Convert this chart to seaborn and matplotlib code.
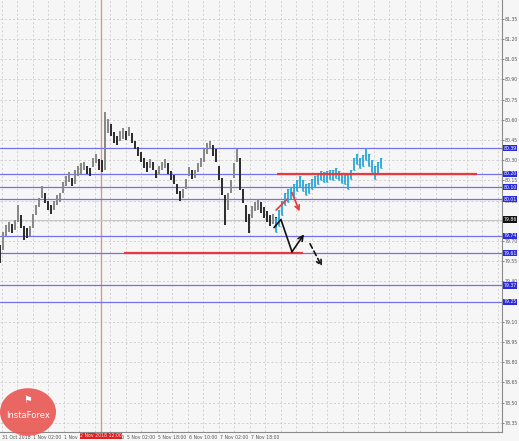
import numpy as np
import matplotlib
matplotlib.use('Agg')
import matplotlib.pyplot as plt
import seaborn as sns
from matplotlib.patches import Circle

sns.set_style('white')
plt.rcParams['font.family'] = ['DejaVu Sans']

# ---- data (prices) ----
BAR_HOURS = 1.55

hist_high = [79.67, 79.77, 79.82, 79.84, 79.83, 79.86, 79.97, 79.89, 79.81, 79.80,
             79.81, 79.90, 79.97, 80.02, 80.11, 80.06, 80.00, 79.97, 80.00, 80.04,
             80.06, 80.14, 80.18, 80.21, 80.17, 80.23, 80.26, 80.28, 80.29, 80.26,
             80.24, 80.32, 80.35, 80.31, 80.30, 80.66, 80.61, 80.57, 80.51, 80.48,
             80.52, 80.54, 80.52, 80.55, 80.50, 80.44, 80.40, 80.36, 80.32, 80.29,
             80.31, 80.29, 80.23, 80.26, 80.29, 80.31, 80.28, 80.22, 80.19, 80.12,
             80.07, 80.09, 80.16, 80.25, 80.23, 80.23, 80.28, 80.32, 80.38, 80.43,
             80.44, 80.41, 80.38, 80.26, 80.17, 80.04, 80.06, 80.15, 80.28, 80.38,
             80.32, 80.09, 79.97, 79.90, 79.96, 79.99, 80.01, 79.99, 79.95, 79.92,
             79.89, 79.90, 79.88]
hist_low = [79.54, 79.63, 79.74, 79.77, 79.76, 79.78, 79.84, 79.80, 79.71, 79.72,
            79.74, 79.80, 79.89, 79.95, 80.02, 79.98, 79.93, 79.90, 79.93, 79.97,
            79.99, 80.06, 80.11, 80.14, 80.11, 80.12, 80.18, 80.20, 80.23, 80.20,
            80.18, 80.25, 80.28, 80.23, 80.21, 80.23, 80.50, 80.48, 80.43, 80.41,
            80.44, 80.46, 80.45, 80.48, 80.43, 80.38, 80.33, 80.29, 80.24, 80.21,
            80.24, 80.23, 80.17, 80.19, 80.23, 80.24, 80.20, 80.15, 80.12, 80.05,
            80.00, 80.02, 80.09, 80.18, 80.16, 80.17, 80.21, 80.25, 80.29, 80.35,
            80.38, 80.33, 80.29, 80.15, 80.04, 79.82, 79.93, 80.06, 80.17, 80.29,
            80.08, 79.98, 79.84, 79.76, 79.87, 79.92, 79.93, 79.91, 79.87, 79.84,
            79.81, 79.83, 79.80]

fc_high = [79.87, 79.93, 80.00, 80.06, 80.09, 80.10, 80.12, 80.15, 80.18, 80.15,
           80.12, 80.13, 80.16, 80.18, 80.20, 80.22, 80.21, 80.22, 80.23, 80.23,
           80.24, 80.22, 80.20, 80.19, 80.20, 80.23, 80.32, 80.35, 80.32, 80.34,
           80.39, 80.35, 80.30, 80.26, 80.29, 80.32]
fc_low = [79.77, 79.81, 79.89, 79.97, 79.99, 80.01, 80.03, 80.07, 80.10, 80.07,
          80.04, 80.06, 80.09, 80.10, 80.12, 80.15, 80.14, 80.14, 80.16, 80.15,
          80.17, 80.15, 80.13, 80.12, 80.09, 80.16, 80.23, 80.27, 80.24, 80.26,
          80.30, 80.26, 80.21, 80.16, 80.20, 80.24]
FC_START = 92  # forecast begins at this bar index

levels = [80.39, 80.20, 80.10, 80.01, 79.74, 79.61, 79.37, 79.25]
current_price = 79.86

# red support / resistance segments: (price, from hour, to hour)
red_levels = [(80.20, 143.0, 246.0), (79.61, 64.0, 156.4)]
crosshair_hour = 52.1
crosshair_label = '2 Nov 2018 12:00'

tick_hours = [1, 17, 33, 49.5, 65.5, 81.5, 97.5, 113.5, 129.5]
tick_labels = ['31 Oct 2018', '1 Nov 02:00', '1 Nov 18:00', '2 Nov 10:00',
               '5 Nov 02:00', '5 Nov 18:00', '6 Nov 10:00', '7 Nov 02:00', '7 Nov 18:00']

# hand-drawn scenario arrows (hour, price)
black_path_h = [141.4, 145.0, 150.7, 156.9]
black_path_p = [79.80, 79.86, 79.62, 79.75]
black_dash_h = [160.0, 166.2]
black_dash_p = [79.68, 79.51]
red_up_h = [142.5, 148.1]
red_up_p = [79.93, 80.01]
red_down_h = [150.7, 154.6]
red_down_p = [80.06, 79.92]

FS = 3.3

# ---- figure ----
fig = plt.figure(figsize=(5.19, 4.41), dpi=100, facecolor='#f6f6f6')
ax = fig.add_axes([0.0, 9 / 441, 502 / 519, 432 / 441])
ax.set_facecolor('#f6f6f6')

x_min, x_max = 0, 259.1
y_min, y_max = 78.282, 81.490
ax.set_xlim(x_min, x_max)
ax.set_ylim(y_min, y_max)

yticks = np.round(np.arange(78.35, 81.40, 0.15), 2)
ax.set_yticks(yticks)
ax.set_yticklabels([f'{v:.2f}' for v in yticks])
ax.yaxis.tick_right()
ax.set_xticks(tick_hours)
ax.set_xticklabels(tick_labels, ha='left')

# dashed grid
for h in np.arange(1, x_max, 8):
    ax.axvline(h, color='#c4c4c4', lw=0.5, ls=(0, (3, 3)), zorder=0)
for v in yticks:
    ax.axhline(v, color='#c4c4c4', lw=0.5, ls=(0, (3, 3)), zorder=0)

# crosshair
ax.axvline(crosshair_hour, color='#ee8a80', lw=0.9, zorder=1)

# level lines
for lv in levels:
    ax.axhline(lv, color='#7272e6', lw=0.9, zorder=2)
ax.axhline(current_price, color='#c8c8c8', lw=0.8, zorder=2)

# history bars
hx = np.arange(len(hist_high)) * BAR_HOURS
ax.vlines(hx, hist_low, hist_high, color='#2a2a2a', lw=1.4, zorder=3)
mid = (np.array(hist_high) + np.array(hist_low)) / 2
up = np.r_[False, np.diff(mid) > 0]
ax.vlines(hx[up], np.array(hist_low)[up], np.array(hist_high)[up], color='#8c8c8c', lw=1.4, zorder=3)

# forecast bars
fx = (FC_START + np.arange(len(fc_high))) * BAR_HOURS
ax.vlines(fx, fc_low, fc_high, color='#2aa6d6', lw=1.3, zorder=4)
ax.hlines(fc_high, fx - 0.5, fx + 0.5, color='#2aa6d6', lw=0.6, zorder=4)
ax.hlines(fc_low, fx - 0.5, fx + 0.5, color='#2aa6d6', lw=0.6, zorder=4)

# red segments
for price, h0, h1 in red_levels:
    ax.hlines(price, h0, h1, color='#e83a3a', lw=1.6, zorder=5)

# arrows
sns.lineplot(x=black_path_h[:-1], y=black_path_p[:-1], sort=False, color='#111111', lw=1.2, ax=ax, zorder=6)
ax.annotate('', xy=(black_path_h[-1], black_path_p[-1]), xytext=(black_path_h[-2], black_path_p[-2]),
            arrowprops=dict(arrowstyle='->', color='#111111', lw=1.2, shrinkA=0, shrinkB=0, mutation_scale=9), zorder=6)
ax.annotate('', xy=(black_dash_h[1], black_dash_p[1]), xytext=(black_dash_h[0], black_dash_p[0]),
            arrowprops=dict(arrowstyle='->', color='#111111', lw=1.2, ls=(0, (3, 2)), shrinkA=0, shrinkB=0,
                            mutation_scale=9), zorder=6)
sns.lineplot(x=red_up_h, y=red_up_p, sort=False, color='#e83a3a', lw=1.2, ax=ax, zorder=6)
ax.annotate('', xy=(red_down_h[1], red_down_p[1]), xytext=(red_down_h[0], red_down_p[0]),
            arrowprops=dict(arrowstyle='->', color='#e83a3a', lw=1.2, shrinkA=0, shrinkB=0, mutation_scale=8), zorder=6)

# axes cosmetics
for s in ['top', 'left']:
    ax.spines[s].set_visible(False)
for s in ['right', 'bottom']:
    ax.spines[s].set_color('#8a8a8a')
    ax.spines[s].set_linewidth(0.8)
ax.tick_params(axis='both', labelsize=FS, length=1.5, width=0.5, colors='#555555', pad=0.6)

# price boxes on the right axis
box_x = 1.003
for lv in levels:
    ax.text(box_x, lv, f'{lv:.2f}', transform=ax.get_yaxis_transform(), fontsize=FS, color='white',
            va='center', ha='left', clip_on=False, zorder=10,
            bbox=dict(boxstyle='square,pad=0.12', fc='#2b2bdc', ec='none'))
ax.text(box_x, current_price, f'{current_price:.2f}', transform=ax.get_yaxis_transform(), fontsize=FS,
        color='white', va='center', ha='left', clip_on=False, zorder=10,
        bbox=dict(boxstyle='square,pad=0.12', fc='#111111', ec='none'))

# crosshair time box
ax.text(crosshair_hour, -0.003, crosshair_label, transform=ax.get_xaxis_transform(), fontsize=FS,
        color='#ffdede', va='top', ha='center', clip_on=False, zorder=10,
        bbox=dict(boxstyle='square,pad=0.12', fc='#e02020', ec='none'))

# logo badge
badge = Circle((28 / 519, 1 - 412 / 441), 28 / 519, transform=fig.transFigure, fc='#ea5a56', ec='none',
               alpha=0.92, zorder=20)
fig.patches.append(badge)
fig.text(28 / 519, 1 - 416 / 441, 'InstaForex', fontsize=6, color='white', ha='center', va='center', zorder=21)
fig.text(28 / 519, 1 - 400 / 441, '\u2691', fontsize=7, color='white', ha='center', va='center', zorder=21)

fig.savefig('out.png', dpi=100, facecolor=fig.get_facecolor())
